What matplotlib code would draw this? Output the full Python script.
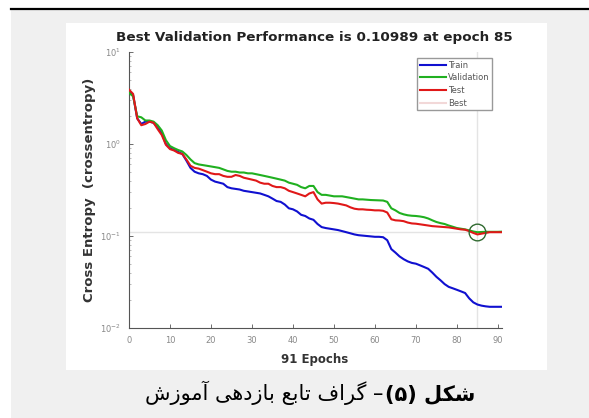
import numpy as np
import matplotlib.pyplot as plt
from matplotlib.patches import Rectangle
from matplotlib.lines import Line2D

# performance per epoch
epochs = np.arange(0, 92)
train = [3.8, 3.4, 1.9, 1.65, 1.75, 1.75, 1.7, 1.5, 1.3, 1.0,
         0.9, 0.86, 0.82, 0.78, 0.66, 0.55, 0.5, 0.48, 0.47, 0.45,
         0.41, 0.39, 0.38, 0.37, 0.34, 0.33, 0.325, 0.32, 0.31, 0.305,
         0.3, 0.295, 0.29, 0.28, 0.27, 0.255, 0.24, 0.235, 0.22, 0.2,
         0.195, 0.185, 0.17, 0.165, 0.155, 0.15, 0.135, 0.125, 0.122, 0.12,
         0.118, 0.116, 0.113, 0.11, 0.107, 0.104, 0.102, 0.101, 0.1, 0.099,
         0.098, 0.098, 0.097, 0.09, 0.072, 0.066, 0.06, 0.056, 0.053, 0.051,
         0.05, 0.048, 0.046, 0.044, 0.04, 0.036, 0.033, 0.03, 0.028, 0.027,
         0.026, 0.025, 0.024, 0.021, 0.019, 0.018, 0.0175, 0.0172, 0.017, 0.017,
         0.017, 0.017]
validation = [3.6, 3.3, 2.0, 1.95, 1.8, 1.8, 1.75, 1.6, 1.4, 1.1,
              0.95, 0.9, 0.86, 0.83, 0.76, 0.68, 0.62, 0.6, 0.59, 0.58,
              0.57, 0.56, 0.55, 0.53, 0.51, 0.5, 0.5, 0.49, 0.49, 0.48,
              0.48, 0.47, 0.46, 0.45, 0.44, 0.43, 0.42, 0.41, 0.4, 0.38,
              0.37, 0.36, 0.34, 0.33, 0.35, 0.35, 0.3, 0.28, 0.28, 0.275,
              0.27, 0.27, 0.27, 0.265, 0.26, 0.255, 0.25, 0.25, 0.248, 0.246,
              0.245, 0.244, 0.243, 0.235, 0.2, 0.19, 0.178, 0.172, 0.168, 0.166,
              0.165, 0.163, 0.16, 0.155, 0.148, 0.142, 0.138, 0.135, 0.13, 0.126,
              0.122, 0.12, 0.118, 0.115, 0.112, 0.10989, 0.1105, 0.111, 0.111, 0.111,
              0.111, 0.1115]
test = [3.9, 3.5, 1.9, 1.6, 1.65, 1.75, 1.7, 1.45, 1.25, 0.98,
        0.88, 0.85, 0.8, 0.78, 0.68, 0.58, 0.55, 0.54, 0.52, 0.5,
        0.48, 0.47, 0.47, 0.45, 0.44, 0.44, 0.46, 0.45, 0.43, 0.42,
        0.41, 0.4, 0.38, 0.37, 0.37, 0.35, 0.34, 0.34, 0.33, 0.31,
        0.3, 0.29, 0.28, 0.27, 0.29, 0.3, 0.25, 0.225, 0.23, 0.23,
        0.228, 0.225, 0.22, 0.215, 0.205, 0.198, 0.195, 0.195, 0.193, 0.192,
        0.19, 0.19, 0.188, 0.18, 0.152, 0.148, 0.147, 0.145, 0.14, 0.137,
        0.136, 0.134, 0.132, 0.13, 0.128, 0.127, 0.126, 0.125, 0.124, 0.122,
        0.12, 0.118, 0.117, 0.113, 0.108, 0.104, 0.106, 0.108, 0.11, 0.11,
        0.11, 0.11]
best_epoch = 85
best_perf = 0.10989

title = 'Best Validation Performance is 0.10989 at epoch 85'
ylabel = 'Cross Entropy  (crossentropy)'
xlabel = '91 Epochs'

# Persian caption, written in visual order with presentation forms
cap_regular = ('\uFEB5\uFEAF\uFEEE\uFEE3\uFE81 '
               '\uFBFD\uFEEB\uFEA9\uFEAF\uFE8E\uFE91 '
               '\uFECA\uFE91\uFE8E\uFE97 '
               '\uFED1\uFE8D\uFEAE\uFB94 \u2013')
cap_bold = '(\u06F5) \uFEDE\uFB91\uFEB7'

W, H = 589, 418
fig = plt.figure(figsize=(W / 100, H / 100), dpi=100)


def fx(px):
    return px / W


def fy(py):
    return 1 - py / H


# page look: gray panel, rule on top, white picture
fig.patches.append(Rectangle((fx(11), 0), 1 - fx(11), fy(10), transform=fig.transFigure,
                             facecolor='#f0f0f0', edgecolor='none', zorder=-2))
fig.lines.append(Line2D([fx(11), 1], [fy(9), fy(9)], transform=fig.transFigure,
                        color='black', lw=1.6))
fig.patches.append(Rectangle((fx(66), fy(370)), fx(547) - fx(66), fy(23) - fy(370),
                             transform=fig.transFigure, facecolor='white',
                             edgecolor='none', zorder=-1))

ax = fig.add_axes([fx(129), fy(328), fx(502) - fx(129), fy(52) - fy(328)])
ax.set_zorder(2)
ax.set_yscale('log')

ax.axvline(best_epoch, color='#e4e4e4', lw=1, zorder=1)
ax.axhline(best_perf, color='#e4e4e4', lw=1, zorder=1)
ax.plot(epochs, train, color='#1010d0', lw=1.5, label='Train', zorder=2)
ax.plot(epochs, validation, color='#20b020', lw=1.5, label='Validation', zorder=3)
ax.plot(epochs, test, color='#e01818', lw=1.5, label='Test', zorder=4)
ax.plot([], [], color='#f2d8d8', lw=1.5, label='Best')
ax.plot(best_epoch, best_perf, 'o', mfc='none', mec='#306a30', ms=12, mew=1, zorder=5)

ax.set_xlim(0, 91)
ax.set_ylim(0.01, 10)
ax.set_xticks(range(0, 91, 10))
for s in ['top', 'right']:
    ax.spines[s].set_visible(False)
for s in ['left', 'bottom']:
    ax.spines[s].set_color('#555555')
    ax.spines[s].set_linewidth(0.8)
ax.tick_params(direction='in', length=3, width=0.6, labelsize=6,
               labelcolor='#888888', color='#555555')
ax.tick_params(axis='x', pad=6)
ax.tick_params(axis='y', pad=6)
ax.tick_params(which='minor', direction='in', length=1.5, width=0.4, color='#888888')

ax.legend(loc='upper right', bbox_to_anchor=(fx(492), fy(58)),
          bbox_transform=fig.transFigure, borderaxespad=0, fontsize=6,
          fancybox=False, edgecolor='#999999', framealpha=1,
          handlelength=3.2, handletextpad=0.2, labelspacing=0.45,
          borderpad=0.3, labelcolor='#555555')

fig.text(fx(314), fy(38), title, ha='center', va='center', fontsize=9.7,
         fontweight='bold', color='#222222')
fig.text(fx(90), fy(190), ylabel, rotation=90, ha='center', va='center',
         fontsize=9.5, fontweight='bold', color='#333333')
fig.text(fx(315), fy(359), xlabel, ha='center', va='center', fontsize=8.5,
         fontweight='bold', color='#333333')

# caption: regular part then bold part, centred as a whole
t_reg = fig.text(0, fy(400), cap_regular, fontsize=15, va='baseline', ha='left',
                 family='DejaVu Sans')
t_bold = fig.text(0, fy(400), cap_bold, fontsize=15, va='baseline', ha='left',
                  family='DejaVu Sans', fontweight='bold')
fig.canvas.draw()
r = fig.canvas.get_renderer()
w1 = t_reg.get_window_extent(r).width
w2 = t_bold.get_window_extent(r).width
left = 309 - (w1 + w2) / 2
t_reg.set_x(fx(left))
t_bold.set_x(fx(left + w1 + 2))

fig.savefig('out.png', dpi=100)
